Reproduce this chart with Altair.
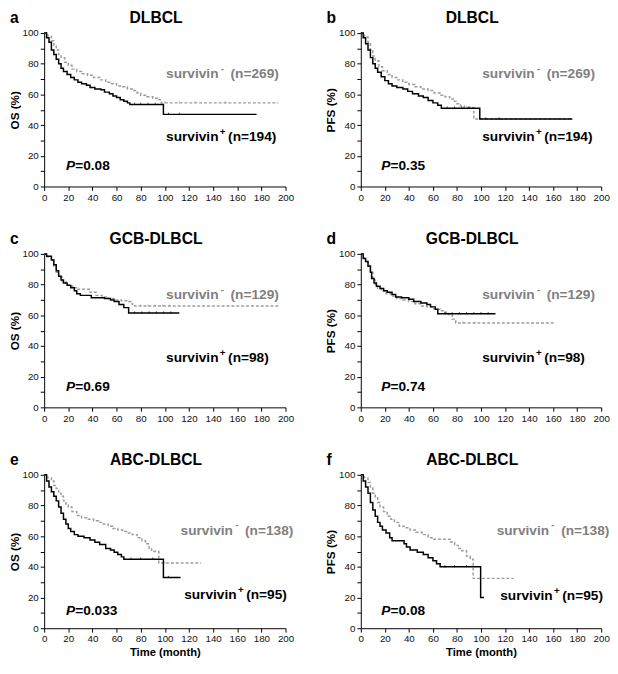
import altair as alt
import pandas as pd

# ---------------- data ----------------
# a: OS, DLBCL
a_pos_t = [0, 2, 4, 6, 8, 10, 12, 14, 16, 19, 22, 25, 28, 31, 35, 38, 42, 47, 50, 54, 57, 60, 63, 66, 69, 71, 98.8, 176]
a_pos_s = [100, 97, 94, 89, 86, 83, 80, 77, 75, 73, 71, 69.5, 68, 67, 66, 64.5, 63.5, 63, 61.5, 60.5, 59, 58, 56.5, 55.5, 54.5, 53.5, 47, 47]
a_neg_t = [0, 3, 6, 8, 10, 12, 14, 17, 20, 23, 27, 31, 36, 41, 46, 51, 55, 60, 65, 69, 73, 77, 80, 85, 90, 94, 97, 194]
a_neg_s = [100, 98, 95, 92, 89, 86, 84, 81, 79, 76.5, 75, 73.5, 72.5, 71, 69.5, 68, 67, 65.5, 65, 63.5, 62.5, 61, 59.5, 58.5, 57.5, 56.5, 54.5, 54.5]
a_pos_cens = [75, 80, 86, 92, 103, 112]
a_neg_cens = [100, 112, 125, 150]

# b: PFS, DLBCL
b_pos_t = [0, 2, 4, 6, 8, 10, 12, 14, 17, 20, 23, 26, 30, 35, 39, 43, 48, 52, 56, 60, 64, 67, 99, 176]
b_pos_s = [100, 97, 93, 89, 84, 80, 77, 74.5, 71.5, 69, 67, 65.5, 64.5, 63.5, 62, 60.5, 59, 58, 56, 54.5, 53, 51, 44, 44]
b_neg_t = [0, 3, 6, 8, 10, 12, 15, 18, 22, 26, 30, 35, 40, 45, 50, 56, 61, 66, 70, 74, 77, 80, 83, 86, 94, 176]
b_neg_s = [100, 97.5, 94, 89, 85, 82, 78, 75.5, 73, 71, 69.5, 68, 66.5, 65, 63.5, 62.5, 61, 59.5, 58.5, 57, 55.5, 54, 52.5, 51.5, 44, 44]
b_pos_cens = [72, 78, 84, 90, 104, 115]
b_neg_cens = [88, 91]

# c: OS, GCB-DLBCL
c_pos_t = [0, 2, 6, 8, 10, 12, 14, 16, 19, 22, 25, 27, 30, 39, 50, 55, 58, 62, 66, 70, 112]
c_pos_s = [100, 98.5, 96, 93, 89, 85.5, 83, 81, 79.5, 78, 76, 74, 73, 71.5, 71, 70, 69, 67, 65, 61.5, 61.5]
c_neg_t = [0, 3, 6, 8, 10, 12, 15, 18, 21, 25, 27, 38, 43, 48, 53, 58, 64, 70, 73, 75, 194]
c_neg_s = [100, 98, 96, 92, 88, 85, 82, 80, 79, 78, 77, 75, 73, 72, 71, 70, 69.5, 69, 67, 66, 66]
c_pos_cens = [75, 81, 87, 93, 99, 105]
c_neg_cens = [80, 86, 92, 98, 104]

# d: PFS, GCB-DLBCL
d_pos_t = [0, 2, 4, 6, 8, 9, 11, 13, 16, 19, 22, 26, 29, 34, 40, 44, 50, 55, 58, 62, 64, 112]
d_pos_s = [100, 97, 95, 92, 88, 84, 81, 79, 77.5, 76, 75, 73.5, 72, 71.5, 70.5, 69, 68, 67, 65.5, 64, 61, 61]
d_neg_t = [0, 2, 4, 6, 8, 10, 12, 14, 17, 21, 25, 30, 35, 40, 45, 50, 55, 61, 66, 70, 73, 76, 79, 161]
d_neg_s = [100, 97.5, 95, 92.5, 88, 83, 80, 77.5, 76, 74, 72.5, 71, 70, 69, 67.5, 66, 65.5, 64, 63, 62, 60.5, 57.5, 55, 55]
d_pos_cens = [70, 76, 82, 88, 94, 100, 106]
d_neg_cens = [85, 95]

# e: OS, ABC-DLBCL
e_pos_t = [0, 2, 4, 6, 8, 10, 12, 14, 16, 18, 20, 22, 25, 28, 33, 38, 42, 46, 51, 55, 58, 61, 64, 66, 98.8, 113]
e_pos_s = [100, 96, 92, 89, 86, 83, 79, 75, 71, 68, 65, 63, 61, 60, 59, 57.5, 56, 54.5, 52, 51, 49.5, 48, 46.5, 45, 33, 33]
e_neg_t = [0, 3, 6, 8, 10, 12, 14, 16, 18, 20, 23, 27, 31, 36, 41, 45, 49, 53, 57, 61, 65, 69, 73, 77, 81, 84, 87, 89, 95, 130]
e_neg_s = [100, 98, 96, 93, 91, 88, 86, 83, 81, 79, 76, 73.5, 72, 71, 70, 69, 68, 66.5, 65, 64, 63, 62, 61, 59, 57, 55, 52, 50, 42.5, 42.5]
e_pos_cens = [72, 80, 90, 103]
e_neg_cens = [92, 100]

# f: PFS, ABC-DLBCL
f_pos_t = [0, 2, 4, 6, 8, 10, 12, 14, 16, 18, 21, 24, 26, 36, 38, 41, 47, 52, 56, 60, 63, 66, 99.7, 102.5]
f_pos_s = [100, 96, 92, 88, 82, 77, 73, 69, 66.5, 64, 62, 59, 57, 55, 53, 51, 49.5, 48, 46, 44, 42, 40, 20, 20]
f_neg_t = [0, 3, 6, 8, 10, 12, 14, 16, 19, 22, 25, 28, 32, 36, 41, 46, 51, 56, 60, 75, 78, 81, 84, 88, 91, 93.5, 127]
f_neg_s = [100, 98, 95, 92, 88, 85, 82, 79, 76, 73, 71, 69, 66.5, 65.5, 64, 62.5, 61, 59, 58, 56, 54, 52, 50.5, 47, 45, 32.5, 32.5]
f_pos_cens = [70, 78, 88]
f_neg_cens = [88]

letters = ["a", "b", "c", "d", "e", "f"]
titles = ["DLBCL", "DLBCL", "GCB-DLBCL", "GCB-DLBCL", "ABC-DLBCL", "ABC-DLBCL"]
ylabels = ["OS (%)", "PFS (%)", "OS (%)", "PFS (%)", "OS (%)", "PFS (%)"]
group_word = "survivin"
neg_sup, pos_sup = "-", "+"
neg_n = ["(n=269)", "(n=269)", "(n=129)", "(n=129)", "(n=138)", "(n=138)"]
pos_n = ["(n=194)", "(n=194)", "(n=98)", "(n=98)", "(n=95)", "(n=95)"]
pvalues = ["=0.08", "=0.35", "=0.69", "=0.74", "=0.033", "=0.08"]
xlabel = "Time (month)"

H = 157
FONT = "Liberation Sans"
GRAY_LINE = "#9c9c9c"
GRAY_TEXT = "#808080"


def step_value(ts, ss, t):
    v = ss[0]
    for ti, si in zip(ts, ss):
        if ti <= t:
            v = si
    return v


def label_group(one, xy, sup, ntext, color, n_dx):
    base = dict(font=FONT, fontWeight="bold", align="left", baseline="middle", color=color)
    enc = dict(x=alt.datum(xy[0]), y=alt.datum(xy[1]))
    w = alt.Chart(one).mark_text(text=group_word, fontSize=14, **base).encode(**enc)
    s = alt.Chart(one).mark_text(text=sup, fontSize=10, dx=55 if sup == "+" else 56,
                                 dy=-5.5, **base).encode(**enc)
    n = alt.Chart(one).mark_text(text=ntext, fontSize=14, dx=n_dx, **base).encode(**enc)
    return [w, s, n]


def panel(i, W, pos_t, pos_s, neg_t, neg_s, pos_c, neg_c, neg_xy, pos_xy, p_xy, bottom):
    xaxis = alt.Axis(tickCount=10, title=xlabel if bottom else None,
                     labelFlush=False, labelOverlap=False, tickSize=4, labelPadding=2, titlePadding=3)
    yaxis = alt.Axis(tickCount=10,
                     labelExpr="datum.value % 20 == 0 ? datum.label : ''",
                     labelOverlap=False, title=ylabels[i], tickSize=4, labelPadding=2, titlePadding=1)
    x = alt.X("t:Q", scale=alt.Scale(domain=[0, 200], nice=False), axis=xaxis)
    y = alt.Y("s:Q", scale=alt.Scale(domain=[0, 100], nice=False), axis=yaxis)

    df_neg = pd.DataFrame({"t": neg_t, "s": neg_s})
    df_pos = pd.DataFrame({"t": pos_t, "s": pos_s})
    cn = pd.DataFrame({"t": neg_c, "s": [step_value(neg_t, neg_s, c) for c in neg_c]})
    cp = pd.DataFrame({"t": pos_c, "s": [step_value(pos_t, pos_s, c) for c in pos_c]})

    neg = alt.Chart(df_neg).mark_line(interpolate="step-after", color=GRAY_LINE,
                                      strokeDash=[3, 2], strokeWidth=1.5).encode(x=x, y=y)
    pos = alt.Chart(df_pos).mark_line(interpolate="step-after", color="black",
                                      strokeWidth=1.5).encode(x=x, y=y)
    tick_shape = "M0,-1L0,0.3"
    negc = alt.Chart(cn).mark_point(shape=tick_shape, size=12, color=GRAY_LINE,
                                    strokeWidth=1, filled=False).encode(x=x, y=y)
    posc = alt.Chart(cp).mark_point(shape=tick_shape, size=12, color="black",
                                    strokeWidth=1, filled=False).encode(x=x, y=y)

    one = pd.DataFrame({"k": [0]})
    base_txt = dict(font=FONT, fontSize=14, fontWeight="bold", align="left", baseline="middle")
    texts = label_group(one, neg_xy, neg_sup, neg_n[i], GRAY_TEXT, 66)
    texts += label_group(one, pos_xy, pos_sup, pos_n[i], "black", 63.5)
    t_p = alt.Chart(one).mark_text(text="P", color="black", fontStyle="italic", **base_txt).encode(
        x=alt.datum(p_xy[0]), y=alt.datum(p_xy[1]))
    t_pv = alt.Chart(one).mark_text(text=pvalues[i], color="black", dx=9.5, **base_txt).encode(
        x=alt.datum(p_xy[0]), y=alt.datum(p_xy[1]))
    t_title = alt.Chart(one).mark_text(text=titles[i], font=FONT, fontSize=16, fontWeight="bold",
                                       align="center", baseline="alphabetic", color="black").encode(
        x=alt.value(W / 2 - 9), y=alt.value(-10))
    t_letter = alt.Chart(one).mark_text(text=letters[i], font=FONT, fontSize=16, fontWeight="bold",
                                        align="left", baseline="alphabetic", color="black").encode(
        x=alt.value(-35), y=alt.value(-10))

    return alt.layer(neg, pos, negc, posc, *texts, t_p, t_pv, t_title, t_letter).properties(
        width=W, height=H)


pa = panel(0, 247, a_pos_t, a_pos_s, a_neg_t, a_neg_s, a_pos_cens, a_neg_cens, (101, 73), (101, 32), (18, 13), False)
pb = panel(1, 246, b_pos_t, b_pos_s, b_neg_t, b_neg_s, b_pos_cens, b_neg_cens, (101, 73), (101, 32), (17, 13), False)
pc = panel(2, 247, c_pos_t, c_pos_s, c_neg_t, c_neg_s, c_pos_cens, c_neg_cens, (101, 73), (101, 32), (18, 13), False)
pd_ = panel(3, 246, d_pos_t, d_pos_s, d_neg_t, d_neg_s, d_pos_cens, d_neg_cens, (101, 73), (101, 32), (17, 13), False)
pe = panel(4, 247, e_pos_t, e_pos_s, e_neg_t, e_neg_s, e_pos_cens, e_neg_cens, (113, 63.5), (116, 21.5), (18, 11), True)
pf = panel(5, 246, f_pos_t, f_pos_s, f_neg_t, f_neg_s, f_pos_cens, f_neg_cens, (113, 63.5), (116, 21), (17, 11), True)

chart = alt.vconcat(
    alt.hconcat(pa, pb, spacing=31),
    alt.hconcat(pc, pd_, spacing=31),
    alt.hconcat(pe, pf, spacing=31),
    spacing=30,
).properties(padding={"left": 0, "top": -5, "right": 0, "bottom": 0}).configure_view(
    stroke=None
).configure_axis(
    grid=False, domainColor="black", tickColor="black", labelColor="#111",
    labelFont=FONT, labelFontSize=10, titleFont=FONT, titleFontSize=12,
    titleFontWeight="bold", titleColor="black", domainWidth=1, tickWidth=1,
    labelOverlap=False,
).configure_axisX(titleFontSize=11.5)

chart.save("out.html", embed_options={"renderer": "svg", "actions": False})
